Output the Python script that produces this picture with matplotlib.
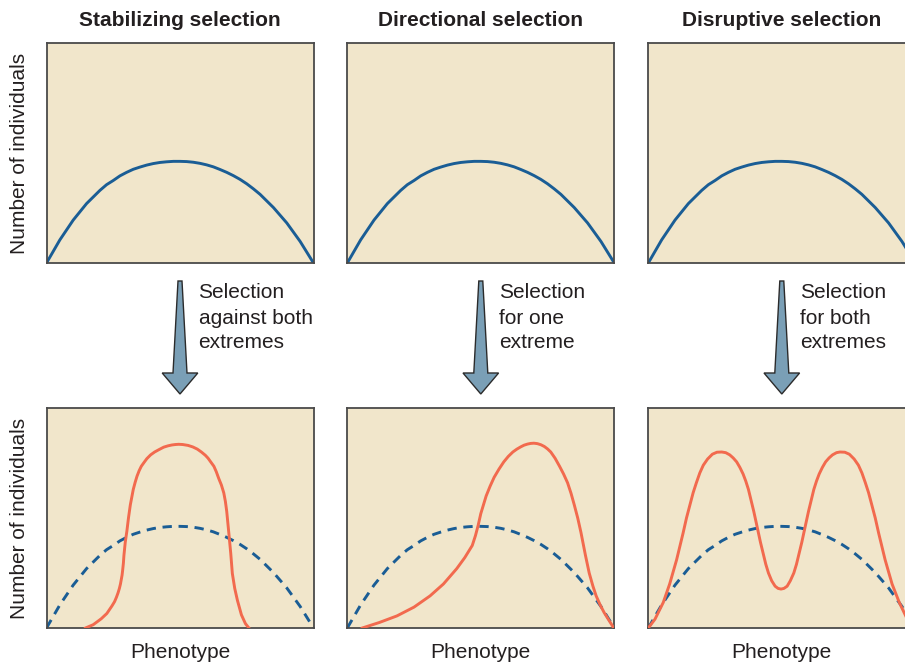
"""
Seleccion natural: estabilizadora, direccional y disruptiva.
Curvas leidas a mano del diagrama de referencia.
"""

import matplotlib.pyplot as plt
from matplotlib.patches import Polygon

# poblacion original (curva azul), fenotipo normalizado 0..1
x_base = [0.0, 0.05, 0.10, 0.15, 0.20, 0.225, 0.25, 0.275, 0.30, 0.325, 0.35,
          0.375, 0.40, 0.425, 0.45, 0.475, 0.50, 0.525, 0.55, 0.575, 0.60,
          0.625, 0.65, 0.675, 0.70, 0.725, 0.75, 0.775, 0.80, 0.85, 0.90,
          0.95, 1.0]
y_base = [0.0, 0.105, 0.195, 0.27, 0.33, 0.356, 0.375, 0.396, 0.412, 0.426, 0.436,
          0.445, 0.452, 0.457, 0.46, 0.462, 0.462, 0.461, 0.458, 0.453, 0.446,
          0.437, 0.425, 0.412, 0.397, 0.38, 0.36, 0.337, 0.312, 0.252, 0.182,
          0.098, 0.0]

# despues de la seleccion (curvas naranjas)
x_estab = [0.146, 0.175, 0.205, 0.226, 0.245, 0.255, 0.262, 0.268, 0.273, 0.277,
           0.28, 0.283, 0.285, 0.288, 0.29, 0.295, 0.301, 0.307, 0.314, 0.325,
           0.332, 0.339, 0.347, 0.355, 0.365, 0.376, 0.39, 0.405, 0.42, 0.439,
           0.455, 0.47, 0.483, 0.495, 0.51, 0.53, 0.548, 0.565, 0.58, 0.595,
           0.605, 0.615, 0.627, 0.636, 0.645, 0.655, 0.664, 0.67, 0.675, 0.679,
           0.683, 0.69, 0.696, 0.705, 0.715, 0.73, 0.745, 0.758]
y_estab = [0.0, 0.015, 0.042, 0.066, 0.10, 0.12, 0.14, 0.16, 0.18, 0.20,
           0.22, 0.24, 0.26, 0.295, 0.33, 0.39, 0.44, 0.50, 0.56, 0.63,
           0.662, 0.69, 0.715, 0.735, 0.752, 0.77, 0.787, 0.80, 0.81, 0.822,
           0.828, 0.832, 0.834, 0.835, 0.834, 0.83, 0.823, 0.813, 0.80, 0.785,
           0.772, 0.755, 0.735, 0.71, 0.68, 0.65, 0.614, 0.575, 0.53, 0.48,
           0.43, 0.34, 0.248, 0.18, 0.126, 0.06, 0.02, 0.0]

x_direc = [0.056, 0.12, 0.186, 0.25, 0.31, 0.36, 0.41, 0.44, 0.468, 0.48,
           0.49, 0.50, 0.52, 0.535, 0.55, 0.568, 0.586, 0.603, 0.62, 0.635,
           0.649, 0.662, 0.675, 0.687, 0.699, 0.712, 0.725, 0.738, 0.75, 0.762,
           0.778, 0.795, 0.81, 0.825, 0.838, 0.85, 0.863, 0.875, 0.892, 0.906,
           0.92, 0.932, 0.947, 0.962, 0.98, 0.998]
y_direc = [0.0, 0.025, 0.055, 0.095, 0.146, 0.2, 0.27, 0.32, 0.375, 0.42,
           0.466, 0.52, 0.60, 0.645, 0.685, 0.722, 0.755, 0.78, 0.80, 0.813,
           0.823, 0.831, 0.836, 0.839, 0.84, 0.838, 0.833, 0.825, 0.814, 0.80,
           0.772, 0.735, 0.70, 0.66, 0.612, 0.56, 0.50, 0.435, 0.33, 0.25,
           0.19, 0.146, 0.105, 0.07, 0.035, 0.0]

x_disr = [0.0, 0.025, 0.056, 0.08, 0.106, 0.13, 0.143, 0.156, 0.168, 0.18,
          0.193, 0.206, 0.222, 0.24, 0.257, 0.275, 0.29, 0.305, 0.318, 0.331,
          0.343, 0.355, 0.365, 0.375, 0.385, 0.395, 0.404, 0.412, 0.42, 0.43,
          0.44, 0.45, 0.462, 0.475, 0.486, 0.497, 0.508, 0.52, 0.532, 0.545,
          0.555, 0.565, 0.575, 0.583, 0.591, 0.60, 0.61, 0.62, 0.63, 0.64,
          0.652, 0.664, 0.677, 0.69, 0.705, 0.718, 0.736, 0.753, 0.771, 0.787,
          0.80, 0.813, 0.825, 0.837, 0.85, 0.863, 0.887, 0.913, 0.94, 0.97,
          0.995]
y_disr = [0.0, 0.04, 0.116, 0.2, 0.31, 0.43, 0.50, 0.56, 0.615, 0.66,
          0.705, 0.74, 0.768, 0.79, 0.799, 0.80, 0.797, 0.787, 0.773, 0.755,
          0.73, 0.70, 0.668, 0.63, 0.58, 0.53, 0.48, 0.435, 0.39, 0.34,
          0.29, 0.25, 0.215, 0.19, 0.18, 0.177, 0.18, 0.19, 0.215, 0.25,
          0.29, 0.34, 0.39, 0.435, 0.48, 0.53, 0.58, 0.63, 0.668, 0.70,
          0.73, 0.755, 0.773, 0.787, 0.797, 0.80, 0.799, 0.79, 0.768, 0.74,
          0.705, 0.66, 0.615, 0.56, 0.50, 0.43, 0.31, 0.2, 0.116, 0.04,
          0.0]

titulos = ["Stabilizing selection", "Directional selection", "Disruptive selection"]
textos = ["Selection\nagainst both\nextremes", "Selection\nfor one\nextreme",
          "Selection\nfor both\nextremes"]
curvas = [(x_estab, y_estab), (x_direc, y_direc), (x_disr, y_disr)]

FONDO = "#f1e6cb"
AZUL = "#1a5d95"
NARANJA = "#f26a4e"
TEXTO = "#231f20"
W, H = 905, 665

plt.rcParams["font.family"] = ["Liberation Sans", "DejaVu Sans"]

fig = plt.figure(figsize=(W / 100, H / 100), dpi=100)


def panel(px_left, px_top):
    ax = fig.add_axes([px_left / W, 1 - (px_top + 220) / H, 267 / W, 220 / H])
    ax.set_facecolor(FONDO)
    ax.set_xlim(0, 1)
    ax.set_ylim(0, 1)
    ax.set_xticks([])
    ax.set_yticks([])
    for s in ax.spines.values():
        s.set_color("#4a4a4a")
        s.set_linewidth(1.3)
    return ax


lefts = [46.5, 347.3, 648.3]
for i, left in enumerate(lefts):
    cx = left + 133.5

    # arriba: poblacion original
    ax1 = panel(left, 43)
    ax1.plot(x_base, y_base, color=AZUL, lw=2.1, solid_joinstyle="round")
    fig.text(cx / W, 1 - 20 / H, titulos[i], ha="center", va="center",
             fontsize=15, fontweight="bold", color=TEXTO)

    # abajo: despues de la seleccion
    ax2 = panel(left, 408)
    ax2.plot(x_base, y_base, color=AZUL, lw=2.1, dashes=(3.2, 2.3))
    xs, ys = curvas[i]
    ax2.plot(xs, ys, color=NARANJA, lw=2.1, zorder=3, solid_joinstyle="round")
    fig.text(cx / W, 1 - 653 / H, "Phenotype", ha="center", va="center",
             fontsize=15, color=TEXTO)

    # flecha
    pts = [(cx - 2, 281), (cx + 2, 281), (cx + 7, 373), (cx + 17.8, 373),
           (cx, 394), (cx - 17.8, 373), (cx - 7, 373)]
    pts = [(px / W, 1 - py / H) for px, py in pts]
    fig.patches.append(Polygon(pts, closed=True, transform=fig.transFigure,
                               facecolor="#7a9fb6", edgecolor="#2b2b2b", lw=1.0))
    fig.text((cx + 18.5) / W, 1 - 283.5 / H, textos[i], ha="left", va="top",
             fontsize=15, color=TEXTO, linespacing=1.4)

for cy in (153, 518):
    fig.text(20 / W, 1 - cy / H, "Number of individuals", rotation=90,
             ha="center", va="center", fontsize=15, color=TEXTO)

fig.savefig("out.png", dpi=100, facecolor="white")
